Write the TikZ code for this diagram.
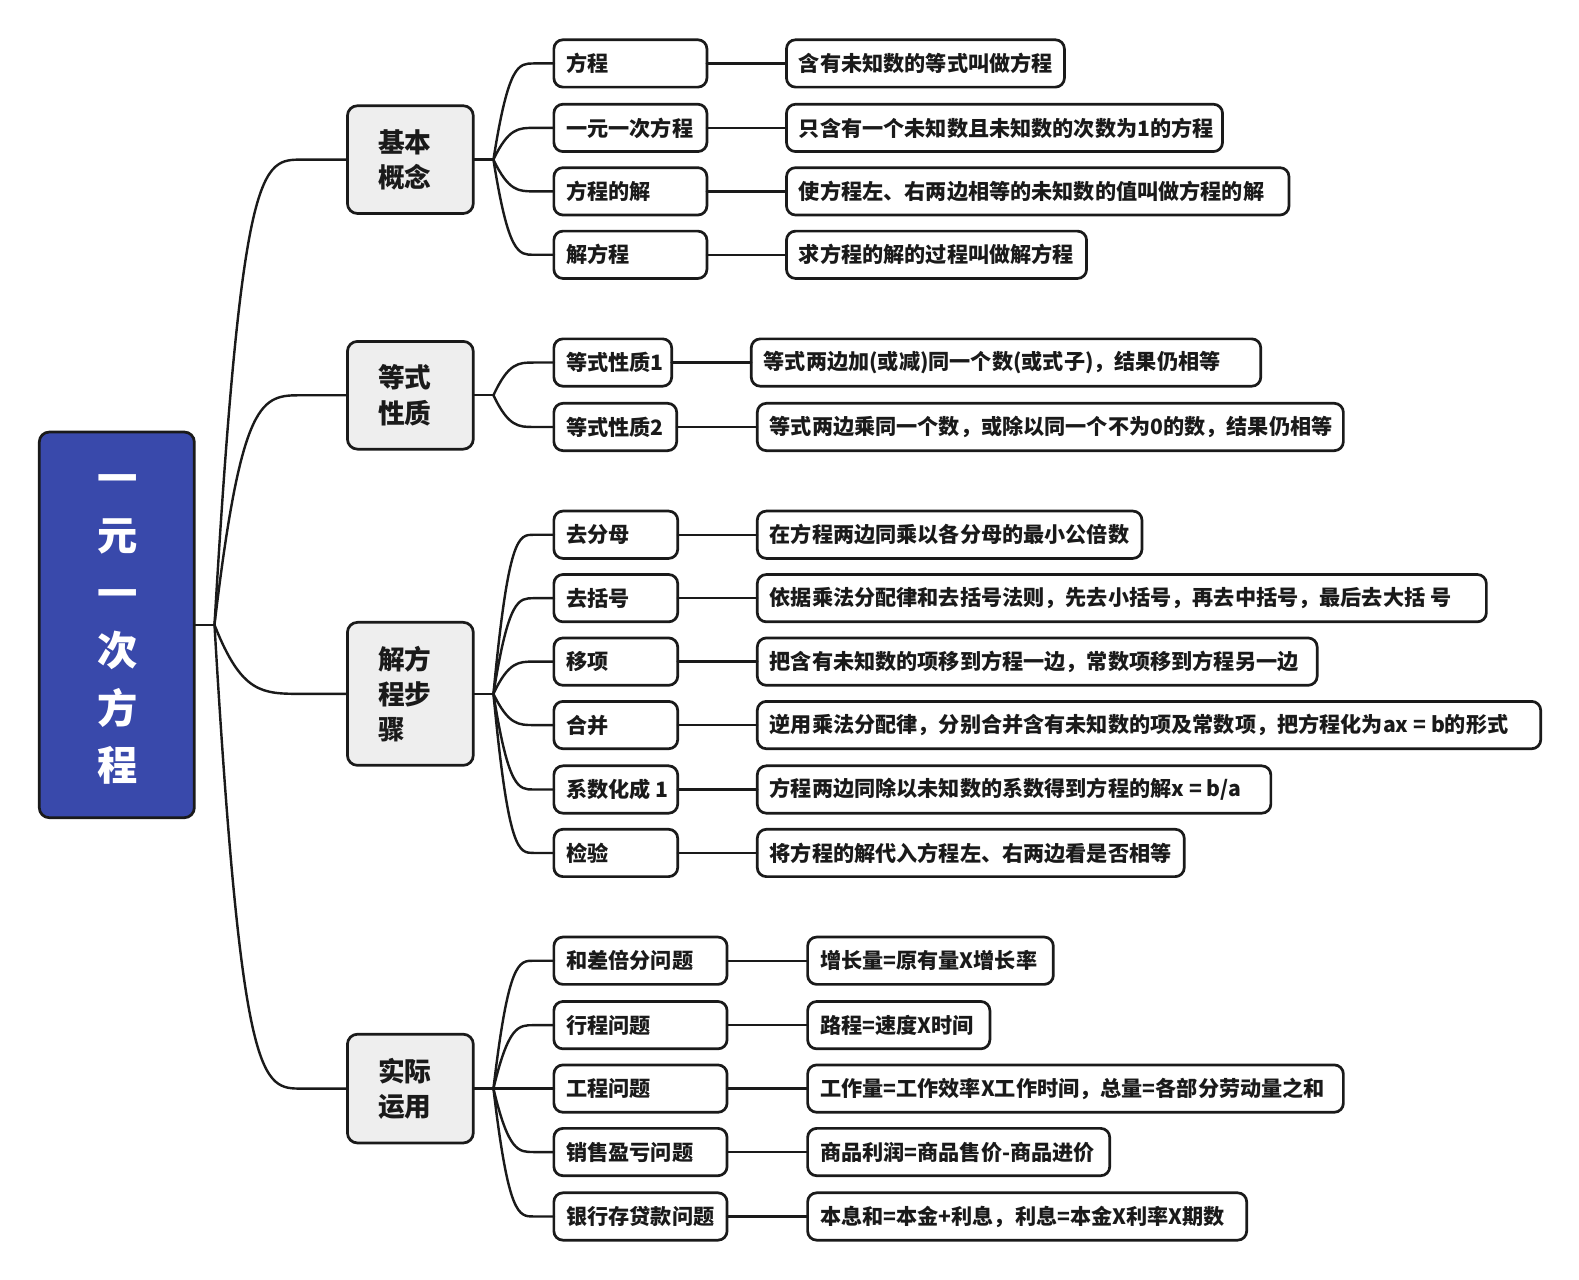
\documentclass[tikz,border=0pt]{standalone}
\usepackage{fontspec}
\newfontfamily\cjk{Noto Sans CJK SC}
\usetikzlibrary{calc}
\definecolor{rootblue}{RGB}{57,73,171}
\definecolor{lvgray}{RGB}{238,238,238}
\definecolor{ink}{RGB}{26,26,26}
\newcommand\mkbox[6]{%
  \node[#1, minimum width={(#4-#3)*0.5pt}] (#2) at (#3,#5) {};
  \node[txt] at ([xshift=6pt]#2.west) {#6};}
\begin{document}
\begin{tikzpicture}[x=0.5pt,y=-0.5pt,
  boxbase/.style={draw=ink, line width=1.35pt, rounded corners=4.5pt, outer sep=0pt, inner sep=0pt, minimum height=23.5pt, anchor=west},
  rootbox/.style={boxbase, fill=rootblue, rounded corners=5pt, anchor=north west},
  topicbox/.style={boxbase, fill=lvgray, rounded corners=5pt},
  subbox/.style={boxbase, fill=white},
  leafbox/.style={boxbase, fill=white},
  txt/.style={font=\cjk\bfseries\fontsize{10.5pt}{13pt}\selectfont, inner sep=0pt, anchor=west, text=ink},
  toptxt/.style={font=\cjk\bfseries\fontsize{13.25pt}{17.5pt}\selectfont, align=left, inner sep=0pt, anchor=west, text=ink},
  roottxt/.style={font=\cjk\bfseries\fontsize{20pt}{28.5pt}\selectfont, align=center, inner sep=0pt, text=white},
  link/.style={draw=ink, line width=1.2pt, line join=round, line cap=round}
]
\useasboundingbox[fill=white] (0,0) rectangle (1568,1271);

% root
\node[rootbox, minimum width=77pt, minimum height=191.5pt] (root) at (39,429) {};
\node[roottxt] (roottext) at (117,625) {一\\元\\一\\次\\方\\程};

% topics
\node[topicbox, minimum width=62.5pt, minimum height=53.5pt] (t1) at (345,158.5) {};
\node[toptxt] (t1text) at ([xshift=15pt]t1.west) {基本\\概念};
\node[topicbox, minimum width=62.5pt, minimum height=53.5pt] (t2) at (345,392.5) {};
\node[toptxt] (t2text) at ([xshift=15pt]t2.west) {等式\\性质};
\node[topicbox, minimum width=62.5pt, minimum height=71pt] (t3) at (345,689) {};
\node[toptxt] (t3text) at ([xshift=15pt]t3.west) {解方\\程步\\骤};
\node[topicbox, minimum width=62.5pt, minimum height=54pt] (t4) at (345,1081) {};
\node[toptxt] (t4text) at ([xshift=15pt]t4.west) {实际\\运用};

% group 1
\mkbox{subbox}{s11}{550}{702}{63}{方程}
\mkbox{subbox}{s12}{550}{702}{127}{一元一次方程}
\mkbox{subbox}{s13}{550}{702}{190}{方程的解}
\mkbox{subbox}{s14}{550}{702}{253}{解方程}
\mkbox{leafbox}{l11}{781}{1057}{63}{含有未知数的等式叫做方程}
\mkbox{leafbox}{l12}{781}{1214}{127}{只含有一个未知数且未知数的次数为1的方程}
\mkbox{leafbox}{l13}{781}{1280}{190}{使方程左、右两边相等的未知数的值叫做方程的解}
\mkbox{leafbox}{l14}{781}{1079}{253}{求方程的解的过程叫做解方程}

% group 2
\mkbox{subbox}{s21}{550}{667}{360}{等式性质1}
\mkbox{subbox}{s22}{550}{672}{424}{等式性质2}
\mkbox{leafbox}{l21}{746}{1252}{360}{等式两边加(或减)同一个数(或式子)，结果仍相等}
\mkbox{leafbox}{l22}{752}{1334}{424}{等式两边乘同一个数，或除以同一个不为0的数，结果仍相等}

% group 3
\mkbox{subbox}{s31}{550}{673}{531}{去分母}
\mkbox{subbox}{s32}{550}{673}{594}{去括号}
\mkbox{subbox}{s33}{550}{673}{657}{移项}
\mkbox{subbox}{s34}{550}{673}{720}{合并}
\mkbox{subbox}{s35}{550}{673}{784}{系数化成 1}
\mkbox{subbox}{s36}{550}{673}{847}{检验}
\mkbox{leafbox}{l31}{752}{1134}{531}{在方程两边同乘以各分母的最小公倍数}
\mkbox{leafbox}{l32}{752}{1476}{594}{依据乘法分配律和去括号法则，先去小括号，再去中括号，最后去大括 号}
\mkbox{leafbox}{l33}{752}{1308}{657}{把含有未知数的项移到方程一边，常数项移到方程另一边}
\mkbox{leafbox}{l34}{752}{1530}{720}{逆用乘法分配律，分别合并含有未知数的项及常数项，把方程化为ax = b的形式}
\mkbox{leafbox}{l35}{752}{1262}{784}{方程两边同除以未知数的系数得到方程的解x = b/a}
\mkbox{leafbox}{l36}{752}{1176}{847}{将方程的解代入方程左、右两边看是否相等}

% group 4
\mkbox{subbox}{s41}{550}{722}{954}{和差倍分问题}
\mkbox{subbox}{s42}{550}{722}{1018}{行程问题}
\mkbox{subbox}{s43}{550}{722}{1081}{工程问题}
\mkbox{subbox}{s44}{550}{722}{1144}{销售盈亏问题}
\mkbox{subbox}{s45}{550}{722}{1208}{银行存贷款问题}
\mkbox{leafbox}{l41}{802}{1046}{954}{增长量=原有量X增长率}
\mkbox{leafbox}{l42}{802}{983}{1018}{路程=速度X时间}
\mkbox{leafbox}{l43}{802}{1334}{1081}{工作量=工作效率X工作时间，总量=各部分劳动量之和}
\mkbox{leafbox}{l44}{802}{1102}{1144}{商品利润=商品售价-商品进价}
\mkbox{leafbox}{l45}{802}{1238}{1208}{本息和=本金+利息，利息=本金X利率X期数}

% connectors root -> topics
\coordinate (jr) at ($(root.east)+(20,0)$);
\draw[link] (root.east) -- (jr);
\foreach \t in {t1,t2,t3,t4}
  \draw[link] (jr) .. controls ($(\t.west)+(-105,0)$) and ($(\t.west)+(-85,0)$) .. ($(\t.west)+(-45,0)$) -- (\t.west);

% topics -> subs
\coordinate (j1) at ($(t1.east)+(20,0)$);
\coordinate (j2) at ($(t2.east)+(20,0)$);
\coordinate (j3) at ($(t3.east)+(20,0)$);
\coordinate (j4) at ($(t4.east)+(20,0)$);
\foreach \t/\j in {t1/j1,t2/j2,t3/j3,t4/j4}
  \draw[link] (\t.east) -- (\j);
\foreach \j/\s in {j1/s11,j1/s12,j1/s13,j1/s14,j2/s21,j2/s22,
                   j3/s31,j3/s32,j3/s33,j3/s34,j3/s35,j3/s36,
                   j4/s41,j4/s42,j4/s43,j4/s44,j4/s45}
  \draw[link] (\j) .. controls ($(\s.west)+(-45,0)$) and ($(\s.west)+(-35,0)$) .. ($(\s.west)+(-20,0)$) -- (\s.west);

% subs -> leaves
\foreach \s/\l in {s11/l11,s12/l12,s13/l13,s14/l14,s21/l21,s22/l22,
                   s31/l31,s32/l32,s33/l33,s34/l34,s35/l35,s36/l36,
                   s41/l41,s42/l42,s43/l43,s44/l44,s45/l45}
  \draw[link] (\s.east) -- (\l.west);
\end{tikzpicture}
\end{document}
